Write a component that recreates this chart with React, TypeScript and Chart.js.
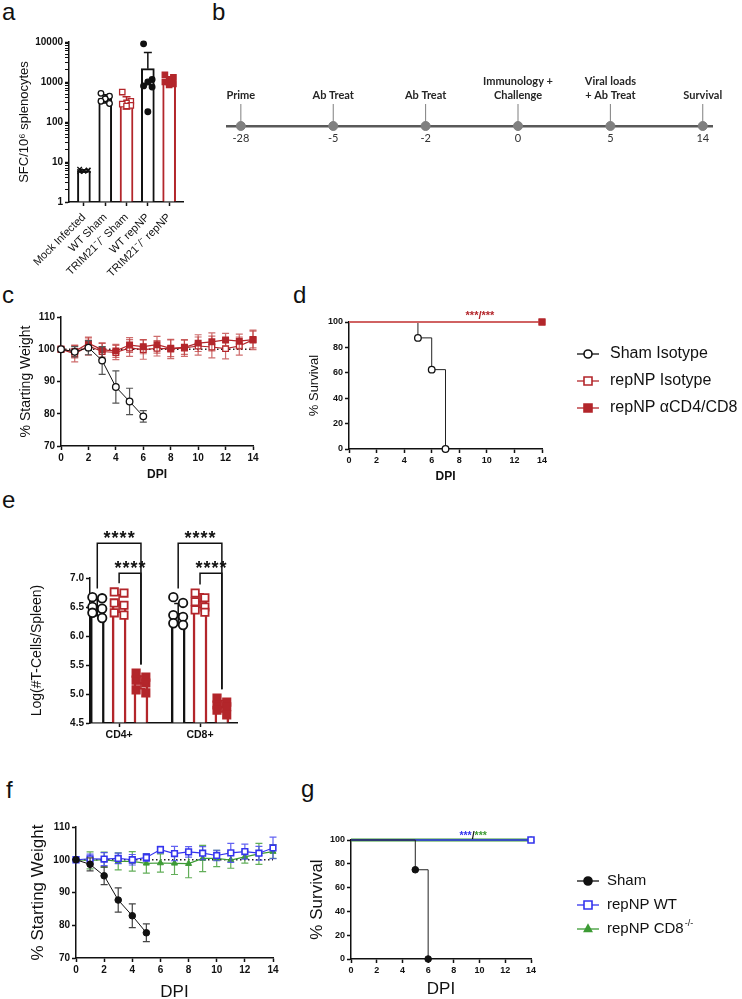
import React, { useEffect, useRef } from 'react';
import { Chart, registerables } from 'chart.js';

Chart.register(...registerables);

const FONT = "'Liberation Sans', Arial, Helvetica, sans-serif";
const TL_FONT = "Lato, 'Open Sans', sans-serif";
const INK = '#111111';
const RED = '#b3262b';
const RED_ERR = 'rgba(190,60,60,0.75)';
const RED_LINE = '#d06262';
const BLUE = '#3434ee';
const GREEN = '#3d9b35';

Chart.defaults.font.family = FONT;
Chart.defaults.color = INK;

// ---------------- panel a : SFC ----------------
const A_CATEGORIES = ['Mock Infected', 'WT Sham', 'TRIM21⁻/⁻ Sham', 'WT repNP', 'TRIM21⁻/⁻ repNP'];
const A_MEANS = [6, 390, 320, 2150, 1110];
const A_SD = [0.4, 90, 110, 3350, 250];
const A_MOCK = [6.6, 6.3, 6.0, 5.8, 6.1, 5.9];
const A_WT_SHAM = [520, 440, 380, 330, 290];
const A_TRIM_SHAM = [560, 330, 300, 280, 260, 250];
const A_WT_REPNP = [9000, 1150, 1000, 800, 750, 180];
const A_TRIM_REPNP = [1500, 1300, 1100, 1000, 900, 850];
const A_MAJOR_TICKS = [1, 10, 100, 1000, 10000];

// ---------------- panel b : timeline ----------------
const B_DAYS = ['-28', '-5', '-2', '0', '5', '14'];
const B_EVENTS = [['Prime'], ['Ab Treat'], ['Ab Treat'], ['Immunology +', 'Challenge'], ['Viral loads', '+ Ab Treat'], ['Survival']];

// ---------------- panel c : weights ----------------
const DAYS = [0, 1, 2, 3, 4, 5, 6, 7, 8, 9, 10, 11, 12, 13, 14];
const C_SHAM = [100, 99.2, 100.5, 96.5, 88.3, 83.8, 79.2];
const C_SHAM_SD = [0, 1.6, 2.2, 4.3, 5.0, 4.1, 1.8];
const C_ISO = [100, 98.6, 101.0, 99.3, 99.0, 100.4, 99.9, 100.3, 100.1, 100.4, 101.0, 100.7, 100.2, 101.0, 102.9];
const C_ISO_SD = [0, 2.5, 2.8, 2.5, 2.2, 2.6, 3.0, 2.4, 3.0, 2.6, 2.8, 3.4, 3.2, 2.8, 3.0];
const C_DEP = [100, 99.3, 101.9, 99.8, 99.5, 101.3, 100.8, 101.4, 100.3, 100.6, 101.9, 102.3, 102.9, 102.5, 103.0];
const C_DEP_SD = [0, 2.0, 1.6, 2.2, 2.0, 2.3, 2.2, 2.6, 2.6, 2.2, 2.6, 2.8, 2.0, 2.2, 2.6];
const BASELINE = 100;

// ---------------- panel d : survival ----------------
const D_SERIES = ['Sham Isotype', 'repNP Isotype', 'repNP αCD4/CD8'];
const D_SHAM_X = [0, 5, 6, 7];
const D_SHAM_Y = [100, 87.5, 62.5, 0];
const D_REP_X = [0, 14];
const D_REP_Y = [100, 100];
const D_SIG = ['***', '/', '***'];

// ---------------- panel e : T cells ----------------
const E_GROUPS = ['CD4+', 'CD8+'];
const E_SHAM_MEAN = [6.49, 6.39];
const E_SHAM_SD = [0.14, 0.17];
const E_SHAM_PTS = [[6.67, 6.65, 6.50, 6.47, 6.40, 6.31], [6.67, 6.57, 6.36, 6.33, 6.22, 6.19]];
const E_REP_MEAN = [6.56, 6.61];
const E_REP_SD = [0.15, 0.12];
const E_REP_PTS = [[6.76, 6.74, 6.57, 6.53, 6.40, 6.36], [6.74, 6.66, 6.59, 6.50, 6.45, 6.41]];
const E_DEP_MEAN = [5.2, 4.79];
const E_DEP_SD = [0.11, 0.1];
const E_DEP_PTS = [[5.36, 5.29, 5.24, 5.19, 5.07, 5.02], [4.93, 4.86, 4.81, 4.78, 4.72, 4.64]];
const E_SIG_OUTER = ['****', '****'];
const E_SIG_INNER = ['****', '****'];

// ---------------- panel f : weights ----------------
const F_SHAM = [100, 98.6, 95.1, 87.7, 82.9, 77.7];
const F_SHAM_SD = [0, 2.0, 2.7, 3.7, 3.6, 2.7];
const F_WT = [100, 100.3, 100.2, 100.4, 100.0, 100.7, 103.1, 101.9, 102.4, 102.0, 101.3, 102.1, 102.5, 102.0, 103.6];
const F_WT_SD = [0, 1.4, 2.0, 1.6, 1.6, 1.2, 1.0, 2.2, 1.6, 2.0, 1.6, 2.9, 2.3, 2.1, 3.3];
const F_CD8 = [100, 99.8, 100.0, 99.5, 99.5, 98.9, 99.0, 98.9, 98.8, 100.4, 100.4, 99.9, 100.9, 101.8, 102.5];
const F_CD8_SD = [0, 2.6, 2.3, 2.6, 3.0, 3.0, 2.8, 3.4, 4.3, 4.0, 2.5, 2.5, 1.9, 3.2, 2.1];

// ---------------- panel g : survival ----------------
const G_SERIES = ['Sham', 'repNP WT', 'repNP CD8'];
const G_SHAM_X = [0, 5, 6];
const G_SHAM_Y = [100, 75, 0];
const G_REP_X = [0, 14];
const G_REP_Y = [100, 100];
const G_SIG = ['***', '/', '***'];

// ================= helpers =================
const JIT_A = [-0.2, 0.2, 0, -0.2, 0.2, 0];
const JIT_E = [-0.06, 0.06, -0.06, 0.06, -0.06, 0.06];
const E_OFFSETS = [-0.27, 0, 0.27];

function drawMarker(ctx: any, style: string, x: number, y: number, r: number, fill: string, stroke: string, bw: number) {
  ctx.save();
  ctx.beginPath();
  if (style === 'circle') ctx.arc(x, y, r, 0, Math.PI * 2);
  else if (style === 'rect') ctx.rect(x - r, y - r, 2 * r, 2 * r);
  else if (style === 'triangle') {
    ctx.moveTo(x, y - r);
    ctx.lineTo(x + r * 0.9, y + r * 0.6);
    ctx.lineTo(x - r * 0.9, y + r * 0.6);
    ctx.closePath();
  }
  ctx.fillStyle = fill;
  ctx.fill();
  ctx.lineWidth = bw;
  ctx.strokeStyle = stroke;
  ctx.stroke();
  ctx.restore();
}

function drawErr(chart: any, i: number) {
  const ds: any = chart.data.datasets[i];
  const meta = chart.getDatasetMeta(i);
  const ys: any = chart.scales[meta.yAxisID];
  const ctx = chart.ctx;
  const cap = ds.errCap ?? 3.5;
  ctx.save();
  ctx.lineWidth = ds.errWidth ?? 1.2;
  meta.data.forEach((el: any, j: number) => {
    const e = ds.err[j];
    if (!e) return;
    const raw = ds.data[j];
    const v = typeof raw === 'number' ? raw : raw.y;
    const x = el.x;
    const hi = ys.getPixelForValue(v + e);
    const canLow = ys.type !== 'logarithmic' || v - e > 0;
    const lo = canLow ? ys.getPixelForValue(v - e) : ys.getPixelForValue(v);
    ctx.strokeStyle = Array.isArray(ds.errColor) ? ds.errColor[j] : ds.errColor;
    ctx.beginPath();
    ctx.moveTo(x, hi);
    ctx.lineTo(x, lo);
    ctx.moveTo(x - cap, hi);
    ctx.lineTo(x + cap, hi);
    if (canLow) {
      ctx.moveTo(x - cap, lo);
      ctx.lineTo(x + cap, lo);
    }
    ctx.stroke();
  });
  ctx.restore();
}

const errorBarsPlugin = {
  id: 'errorBars',
  beforeDatasetDraw(chart: any, args: any) {
    const ds: any = chart.data.datasets[args.index];
    if (ds && ds.err && ds.errUnder) drawErr(chart, args.index);
  },
  afterDatasetDraw(chart: any, args: any) {
    const ds: any = chart.data.datasets[args.index];
    if (ds && ds.err && !ds.errUnder) drawErr(chart, args.index);
  },
};
Chart.register(errorBarsPlugin as any);

const sideLegendPlugin = {
  id: 'sideLegend',
  afterDraw(chart: any, _a: any, opts: any) {
    if (!opts || !opts.items) return;
    const ctx = chart.ctx;
    opts.items.forEach((it: any, k: number) => {
      const y = opts.y0 + k * opts.dy;
      ctx.save();
      ctx.strokeStyle = it.line;
      ctx.lineWidth = 1.3;
      ctx.beginPath();
      ctx.moveTo(opts.x - opts.half, y);
      ctx.lineTo(opts.x + opts.half, y);
      ctx.stroke();
      drawMarker(ctx, it.marker, opts.x, y, opts.r, it.fill, it.stroke, 1.6);
      ctx.fillStyle = INK;
      ctx.font = `${opts.size}px ${FONT}`;
      ctx.textBaseline = 'middle';
      ctx.textAlign = 'left';
      ctx.fillText(it.label, opts.tx, y);
      if (it.sup) {
        const w = ctx.measureText(it.label).width;
        ctx.font = `${Math.round(opts.size * 0.62)}px ${FONT}`;
        ctx.fillText(it.sup, opts.tx + w + 1, y - opts.size * 0.38);
      }
      ctx.restore();
    });
  },
};

const sigTextPlugin = {
  id: 'sigText',
  afterDatasetsDraw(chart: any, _a: any, opts: any) {
    if (!opts || !opts.parts) return;
    const ctx = chart.ctx;
    const x = chart.scales.x.getPixelForValue(opts.x);
    const y = chart.scales.y.getPixelForValue(opts.y) + opts.dy;
    ctx.save();
    ctx.font = `bold ${opts.size}px ${FONT}`;
    ctx.textBaseline = 'alphabetic';
    ctx.textAlign = 'left';
    const widths = opts.parts.map((p: any) => ctx.measureText(p.text).width);
    let cx = x - widths.reduce((s: number, w: number) => s + w, 0) / 2;
    opts.parts.forEach((p: any, k: number) => {
      ctx.fillStyle = p.color;
      ctx.fillText(p.text, cx, y);
      cx += widths[k];
    });
    ctx.restore();
  },
};

const bracketPlugin = {
  id: 'brackets',
  afterDraw(chart: any, _a: any, opts: any) {
    if (!opts || !opts.items) return;
    const ctx = chart.ctx;
    const xs = chart.scales.x;
    const ys = chart.scales.y;
    opts.items.forEach((b: any) => {
      const x1 = xs.getPixelForValue(b.x1);
      const x2 = xs.getPixelForValue(b.x2);
      const yt = ys.getPixelForValue(b.level);
      const y1 = ys.getPixelForValue(b.leg1);
      const y2 = ys.getPixelForValue(b.leg2);
      ctx.save();
      ctx.strokeStyle = INK;
      ctx.lineWidth = 1.5;
      ctx.beginPath();
      ctx.moveTo(x1, y1);
      ctx.lineTo(x1, yt);
      ctx.lineTo(x2, yt);
      ctx.lineTo(x2, y2);
      ctx.stroke();
      ctx.fillStyle = INK;
      ctx.font = `bold 18px ${FONT}`;
      try {
        (ctx as any).letterSpacing = '1px';
      } catch (e) {
        /* ignore */
      }
      ctx.textAlign = 'center';
      ctx.textBaseline = 'alphabetic';
      ctx.fillText(b.text, (x1 + x2) / 2 + 0.5, yt + 0.5);
      ctx.restore();
    });
  },
};

const timelinePlugin = {
  id: 'timeline',
  afterDatasetsDraw(chart: any, _a: any, opts: any) {
    if (!opts || !opts.labels) return;
    const ctx = chart.ctx;
    const meta = chart.getDatasetMeta(0);
    ctx.save();
    meta.data.forEach((el: any, i: number) => {
      ctx.strokeStyle = '#7f7f7f';
      ctx.lineWidth = 1;
      ctx.beginPath();
      ctx.moveTo(el.x, el.y - 4);
      ctx.lineTo(el.x, el.y - 22);
      ctx.stroke();
      const lines = opts.labels[i];
      ctx.fillStyle = '#262626';
      ctx.font = `bold 11px ${TL_FONT}`;
      ctx.textAlign = 'center';
      ctx.textBaseline = 'middle';
      lines.forEach((t: string, k: number) => {
        ctx.fillText(t, el.x, el.y - 31 - (lines.length - 1 - k) * 14);
      });
    });
    ctx.restore();
  },
};

function clean(o: any) {
  Object.keys(o).forEach((k) => o[k] === undefined && delete o[k]);
  return o;
}

function axis(o: any) {
  const vertical = !!o.vertical;
  const ticks = clean({
    stepSize: o.step,
    autoSkip: false,
    color: INK,
    padding: o.tickPad ?? 2,
    font: { size: o.tickSize ?? 10, weight: o.tickWeight ?? 'bold' },
    callback: o.callback,
    maxRotation: o.rot ?? 0,
    minRotation: o.rot ?? 0,
  });
  return clean({
    type: o.type || 'linear',
    position: vertical ? 'left' : 'bottom',
    offset: false,
    min: o.min,
    max: o.max,
    afterFit: (s: any) => {
      if (vertical) s.width = o.size;
      else s.height = o.size;
    },
    afterBuildTicks: o.tickValues
      ? (s: any) => {
          s.ticks = o.tickValues.map((v: number) => ({ value: v }));
        }
      : undefined,
    border: { display: true, color: INK, width: 1.5 },
    grid: { display: true, offset: false, drawOnChartArea: false, drawTicks: true, tickLength: 4, tickColor: INK, tickWidth: o.tickWidth ?? 1.5 },
    ticks,
    title: o.title
      ? {
          display: true,
          text: o.title,
          color: INK,
          font: { size: o.titleSize, weight: o.titleWeight ?? 'normal' },
          padding: { top: o.titlePad, bottom: o.titlePad },
        }
      : { display: false },
  });
}

function baseOptions(top: number, right: number, scales: any, plugins: any = {}) {
  return {
    responsive: false,
    animation: false,
    events: [],
    layout: { padding: { left: 0, top, right, bottom: 0 }, autoPadding: false },
    plugins: { legend: { display: false }, tooltip: { enabled: false }, ...plugins },
    scales,
  };
}

function baselineDs(y: number) {
  return {
    type: 'line',
    data: [
      { x: DAYS[0], y },
      { x: DAYS[DAYS.length - 1], y },
    ],
    borderColor: '#222',
    borderWidth: 1.3,
    borderDash: [1.5, 2.5],
    pointRadius: 0,
    order: 9,
  };
}

function weightDs(label: string, vals: number[], sd: number[], st: any) {
  return {
    type: 'line',
    label,
    data: vals.map((v, i) => ({ x: DAYS[i], y: v })),
    borderColor: st.line,
    borderWidth: st.lw ?? 1,
    pointStyle: st.marker,
    pointRadius: st.r,
    pointBackgroundColor: st.fill,
    pointBorderColor: st.stroke,
    pointBorderWidth: st.bw,
    err: sd,
    errColor: st.errColor,
    errCap: 3.5,
    errWidth: 1.2,
    errUnder: true,
    clip: false,
    order: st.order,
    tension: 0,
  };
}

function survDs(label: string, xs: number[], ys: number[], st: any) {
  return {
    type: 'line',
    label,
    data: xs.map((x, i) => ({ x, y: ys[i] })),
    stepped: 'before',
    borderColor: st.line,
    borderWidth: st.lw,
    pointStyle: st.marker,
    pointRadius: xs.map((_, i) => (i === 0 ? 0 : st.r)),
    pointBackgroundColor: st.fill,
    pointBorderColor: st.stroke,
    pointBorderWidth: st.bw,
    clip: false,
    order: st.order,
  };
}

// ================= chart builders =================
function buildA() {
  const barColors = [INK, INK, RED, INK, RED];
  const groups = [A_MOCK, A_WT_SHAM, A_TRIM_SHAM, A_WT_REPNP, A_TRIM_REPNP];
  const pstyles = [
    { marker: 'crossRot', r: 3.2, fill: INK, stroke: INK },
    { marker: 'circle', r: 2.8, fill: '#fff', stroke: INK },
    { marker: 'rect', r: 3.8, fill: '#fff', stroke: RED },
    { marker: 'circle', r: 2.8, fill: INK, stroke: INK },
    { marker: 'rect', r: 3.8, fill: RED, stroke: RED },
  ];
  const tickValues = A_MAJOR_TICKS.flatMap((m, i) =>
    i === A_MAJOR_TICKS.length - 1 ? [m] : [1, 2, 3, 4, 5, 6, 7, 8, 9].map((k) => k * m)
  );
  const datasets: any[] = [
    {
      type: 'bar',
      data: A_MEANS.map((v, i) => ({ x: i, y: v })),
      backgroundColor: '#fff',
      borderColor: barColors,
      borderWidth: 2,
      barThickness: 13,
      grouped: false,
      base: 1,
      err: A_SD,
      errColor: barColors,
      errCap: 4,
      errWidth: 1.5,
      order: 3,
    },
  ];
  groups.forEach((vals, g) => {
    const st = pstyles[g];
    datasets.push({
      type: 'scatter',
      data: vals.map((v, k) => ({ x: g + JIT_A[k % JIT_A.length], y: v })),
      pointStyle: st.marker,
      pointRadius: st.r,
      pointBackgroundColor: st.fill,
      pointBorderColor: st.stroke,
      pointBorderWidth: 1.3,
      clip: false,
      order: 1,
    });
  });
  return {
    type: 'bar',
    data: { datasets },
    options: baseOptions(12, 12, {
      x: axis({
        min: -0.7,
        max: 4.65,
        size: 83,
        tickValues: A_CATEGORIES.map((_, i) => i),
        callback: (v: number) => A_CATEGORIES[v],
        rot: 45,
        tickSize: 11,
        tickWeight: 'normal',
        tickPad: 5,
      }),
      y: axis({
        vertical: true,
        type: 'logarithmic',
        min: 1,
        max: 10000,
        size: 69,
        tickValues,
        callback: (v: number) => (A_MAJOR_TICKS.includes(v) ? String(v) : ''),
        tickWidth: (c: any) => (c.tick && A_MAJOR_TICKS.includes(c.tick.value) ? 1.5 : 1),
        tickSize: 10,
        title: 'SFC/10⁶ splenocytes',
        titleSize: 13,
        titlePad: 17,
      }),
    }),
  };
}

function buildB() {
  return {
    type: 'scatter',
    data: {
      datasets: [
        {
          data: B_DAYS.map((_, i) => ({ x: i, y: 0 })),
          pointRadius: 4.5,
          pointBackgroundColor: '#808080',
          pointBorderColor: '#808080',
          pointBorderWidth: 1,
          clip: false,
        },
      ],
    },
    options: {
      ...baseOptions(40, 30, {
        x: {
          type: 'linear',
          min: -0.15,
          max: 5.1,
          afterFit: (s: any) => {
            s.height = 34;
          },
          afterBuildTicks: (s: any) => {
            s.ticks = B_DAYS.map((_, i) => ({ value: i }));
          },
          border: { display: true, color: '#595959', width: 2.5 },
          grid: { display: true, drawOnChartArea: false, drawTicks: false },
          ticks: {
            autoSkip: false,
            color: '#333',
            padding: 6,
            font: { family: TL_FONT, size: 11 },
            callback: (v: number) => B_DAYS[v],
            maxRotation: 0,
            minRotation: 0,
          },
        },
        y: { type: 'linear', min: 0, max: 1, display: false },
      }, { timeline: { labels: B_EVENTS } }),
      layout: { padding: { left: 12, top: 40, right: 30, bottom: 0 }, autoPadding: false },
    },
    plugins: [timelinePlugin],
  };
}

function weightScales(o: any) {
  return {
    x: axis({ min: 0, max: 14, step: 2, size: o.xSize, tickSize: o.tick, title: 'DPI', titleSize: o.xTitleSize, titleWeight: o.xTitleWeight, titlePad: o.xTitlePad }),
    y: axis({ vertical: true, min: 70, max: 110, step: 10, size: o.ySize, tickSize: o.tick, title: '% Starting Weight', titleSize: o.yTitleSize, titlePad: o.yTitlePad }),
  };
}

function buildC() {
  return {
    type: 'line',
    data: {
      datasets: [
        baselineDs(BASELINE),
        weightDs('Sham Isotype', C_SHAM, C_SHAM_SD, { line: INK, marker: 'circle', r: 3.3, fill: '#fff', stroke: INK, bw: 1.3, errColor: '#555', order: 1 }),
        weightDs('repNP Isotype', C_ISO, C_ISO_SD, { line: RED, lw: 1.2, marker: 'rect', r: 4, fill: '#fff', stroke: RED, bw: 1.3, errColor: RED_ERR, order: 3 }),
        weightDs('repNP αCD4/CD8', C_DEP, C_DEP_SD, { line: RED, lw: 1.2, marker: 'rect', r: 4, fill: RED, stroke: RED, bw: 1.3, errColor: RED_ERR, order: 2 }),
      ],
    },
    options: baseOptions(12, 12, weightScales({ xSize: 39, ySize: 61, tick: 10, xTitleSize: 12, xTitleWeight: 'bold', xTitlePad: 2.8, yTitleSize: 14, yTitlePad: 17.6 })),
  };
}

function survScales(o: any) {
  return {
    x: axis({ min: 0, max: 14, step: 2, size: o.xSize, tickSize: o.tick, title: 'DPI', titleSize: o.xTitleSize, titleWeight: o.xTitleWeight, titlePad: o.xTitlePad }),
    y: axis({ vertical: true, min: 0, max: 100, step: 20, size: o.ySize, tickSize: o.tick, title: '% Survival', titleSize: o.yTitleSize, titlePad: o.yTitlePad }),
  };
}

function buildD() {
  const st = [
    { line: '#222', lw: 1, marker: 'circle', r: 3.3, fill: '#fff', stroke: INK, bw: 1.3, order: 3 },
    { line: RED_LINE, lw: 2.2, marker: 'rect', r: 4, fill: '#fff', stroke: RED, bw: 1.3, order: 2 },
    { line: RED_LINE, lw: 2.2, marker: 'rect', r: 4, fill: RED, stroke: RED, bw: 1.3, order: 1 },
  ];
  return {
    type: 'line',
    data: {
      datasets: [
        survDs(D_SERIES[0], D_SHAM_X, D_SHAM_Y, st[0]),
        survDs(D_SERIES[1], D_REP_X, D_REP_Y, st[1]),
        survDs(D_SERIES[2], D_REP_X, D_REP_Y, st[2]),
      ],
    },
    options: baseOptions(
      17,
      200,
      survScales({ xSize: 36, ySize: 59, tick: 9, xTitleSize: 12, xTitleWeight: 'bold', xTitlePad: 0.8, yTitleSize: 13, yTitlePad: 17 }),
      {
        sideLegend: {
          x: 298, half: 11, tx: 320, y0: 49, dy: 27, r: 4, size: 16,
          items: [
            { label: D_SERIES[0], line: INK, marker: 'circle', fill: '#fff', stroke: INK },
            { label: D_SERIES[1], line: RED, marker: 'rect', fill: '#fff', stroke: RED },
            { label: D_SERIES[2], line: RED, marker: 'rect', fill: RED, stroke: RED },
          ],
        },
        sigText: { x: 9.5, y: 100, dy: -3, size: 11, parts: D_SIG.map((t) => ({ text: t, color: RED })) },
      }
    ),
    plugins: [sideLegendPlugin, sigTextPlugin],
  };
}

function buildE() {
  const series = [
    { means: E_SHAM_MEAN, sd: E_SHAM_SD, pts: E_SHAM_PTS, color: INK, marker: 'circle', fill: '#fff', r: 4.3 },
    { means: E_REP_MEAN, sd: E_REP_SD, pts: E_REP_PTS, color: RED, marker: 'rect', fill: '#fff', r: 5.2 },
    { means: E_DEP_MEAN, sd: E_DEP_SD, pts: E_DEP_PTS, color: RED, marker: 'rect', fill: RED, r: 5.2 },
  ];
  const datasets: any[] = [];
  series.forEach((s, k) => {
    datasets.push({
      type: 'bar',
      data: E_GROUPS.map((_, g) => ({ x: g + 1 + E_OFFSETS[k], y: s.means[g] })),
      backgroundColor: '#fff',
      borderColor: s.color,
      borderWidth: 2.5,
      barThickness: 14,
      grouped: false,
      base: 4.5,
      err: s.sd,
      errColor: s.color,
      errCap: 4,
      errWidth: 1.5,
      order: 3,
    });
    datasets.push({
      type: 'scatter',
      data: E_GROUPS.flatMap((_, g) => s.pts[g].map((v, j) => ({ x: g + 1 + E_OFFSETS[k] + JIT_E[j % JIT_E.length], y: v }))),
      pointStyle: s.marker,
      pointRadius: s.r,
      pointBackgroundColor: s.fill,
      pointBorderColor: s.color,
      pointBorderWidth: 1.8,
      clip: false,
      order: 1,
    });
  });
  const brackets: any[] = [];
  E_GROUPS.forEach((_, g) => {
    const xOf = (k: number) => g + 1 + E_OFFSETS[k];
    const top = (k: number) => Math.max(...series[k].pts[g]) + 0.15;
    brackets.push({ x1: xOf(0), x2: xOf(2), level: 7.6, leg1: top(0), leg2: top(2), text: E_SIG_OUTER[g] });
    brackets.push({ x1: xOf(1), x2: xOf(2), level: 7.08, leg1: top(1), leg2: top(2), text: E_SIG_INNER[g] });
  });
  return {
    type: 'bar',
    data: { datasets },
    options: baseOptions(
      73,
      23,
      {
        x: axis({ min: 0.64, max: 2.457, size: 32, tickValues: [1, 2], callback: (v: number) => E_GROUPS[v - 1], tickSize: 10.5 }),
        y: axis({
          vertical: true, min: 4.5, max: 7.0, step: 0.5, size: 90, tickSize: 10,
          callback: (v: number) => Number(v).toFixed(1),
          title: 'Log(#T-Cells/Spleen)', titleSize: 14, titlePad: 28.6,
        }),
      },
      { brackets: { items: brackets } }
    ),
    plugins: [bracketPlugin],
  };
}

function buildF() {
  return {
    type: 'line',
    data: {
      datasets: [
        baselineDs(BASELINE),
        weightDs(G_SERIES[0], F_SHAM, F_SHAM_SD, { line: INK, marker: 'circle', r: 3.3, fill: INK, stroke: INK, bw: 1, errColor: '#444', order: 1 }),
        weightDs(G_SERIES[1], F_WT, F_WT_SD, { line: BLUE, lw: 1.2, marker: 'rect', r: 4, fill: '#fff', stroke: BLUE, bw: 1.6, errColor: 'rgba(70,70,240,0.85)', order: 2 }),
        weightDs(G_SERIES[2], F_CD8, F_CD8_SD, { line: GREEN, lw: 1.2, marker: 'triangle', r: 3.5, fill: GREEN, stroke: GREEN, bw: 1, errColor: 'rgba(70,160,60,0.85)', order: 3 }),
      ],
    },
    options: baseOptions(12, 17, weightScales({ xSize: 47, ySize: 76, tick: 10, xTitleSize: 17, xTitleWeight: 'normal', xTitlePad: 2.8, yTitleSize: 17, yTitlePad: 27.8 })),
  };
}

function buildG() {
  const st = [
    { line: '#222', lw: 1, marker: 'circle', r: 3.3, fill: INK, stroke: INK, bw: 1, order: 1 },
    { line: BLUE, lw: 1.4, marker: 'rect', r: 4.2, fill: '#fff', stroke: BLUE, bw: 1.6, order: 2 },
    { line: GREEN, lw: 3.2, marker: 'triangle', r: 3.5, fill: GREEN, stroke: GREEN, bw: 1, order: 3 },
  ];
  return {
    type: 'line',
    data: {
      datasets: [
        survDs(G_SERIES[0], G_SHAM_X, G_SHAM_Y, st[0]),
        survDs(G_SERIES[1], G_REP_X, G_REP_Y, st[1]),
        survDs(G_SERIES[2], G_REP_X, G_REP_Y, st[2]),
      ],
    },
    options: baseOptions(
      25,
      211,
      survScales({ xSize: 46, ySize: 61, tick: 9, xTitleSize: 17, xTitleWeight: 'normal', xTitlePad: 5.8, yTitleSize: 17, yTitlePad: 17 }),
      {
        sideLegend: {
          x: 298, half: 11, tx: 317, y0: 66, dy: 24, r: 4, size: 15,
          items: [
            { label: G_SERIES[0], line: INK, marker: 'circle', fill: INK, stroke: INK },
            { label: G_SERIES[1], line: BLUE, marker: 'rect', fill: '#fff', stroke: BLUE },
            { label: G_SERIES[2], sup: '-/-', line: GREEN, marker: 'triangle', fill: GREEN, stroke: GREEN },
          ],
        },
        sigText: {
          x: 9.5, y: 100, dy: -1.5, size: 10.5,
          parts: [
            { text: G_SIG[0], color: BLUE },
            { text: G_SIG[1], color: INK },
            { text: G_SIG[2], color: GREEN },
          ],
        },
      }
    ),
    plugins: [sideLegendPlugin, sigTextPlugin],
  };
}

// ================= components =================
type Box = { left: number; top: number; width: number; height: number };

function ChartCanvas({ box, build }: { box: Box; build: () => any }) {
  const ref = useRef<HTMLCanvasElement | null>(null);
  useEffect(() => {
    if (!ref.current) return;
    const chart = new Chart(ref.current, build());
    return () => chart.destroy();
  }, []);
  return (
    <div style={{ position: 'absolute', left: box.left, top: box.top, width: box.width, height: box.height }}>
      <canvas ref={ref} width={box.width} height={box.height} style={{ display: 'block', width: box.width, height: box.height }} />
    </div>
  );
}

const LETTERS: [string, number, number][] = [
  ['a', 2, 0],
  ['b', 212, 0],
  ['c', 2, 283],
  ['d', 293, 283],
  ['e', 2, 488],
  ['f', 6, 778],
  ['g', 301, 777],
];

export default function App() {
  return (
    <div style={{ position: 'absolute', left: 0, top: 0, width: 742, height: 999, background: '#fff', overflow: 'hidden', fontFamily: FONT }}>
      {LETTERS.map(([t, l, tp]) => (
        <div key={t} style={{ position: 'absolute', left: l, top: tp, fontSize: 24, lineHeight: '24px', color: '#111' }}>
          {t}
        </div>
      ))}
      <ChartCanvas box={{ left: 0, top: 30, width: 195, height: 255 }} build={buildA} />
      <ChartCanvas box={{ left: 215, top: 60, width: 527, height: 100 }} build={buildB} />
      <ChartCanvas box={{ left: 0, top: 305, width: 265, height: 180 }} build={buildC} />
      <ChartCanvas box={{ left: 290, top: 305, width: 452, height: 180 }} build={buildD} />
      <ChartCanvas box={{ left: 0, top: 505, width: 260, height: 250 }} build={buildE} />
      <ChartCanvas box={{ left: 0, top: 815, width: 290, height: 190 }} build={buildF} />
      <ChartCanvas box={{ left: 290, top: 815, width: 452, height: 190 }} build={buildG} />
    </div>
  );
}
